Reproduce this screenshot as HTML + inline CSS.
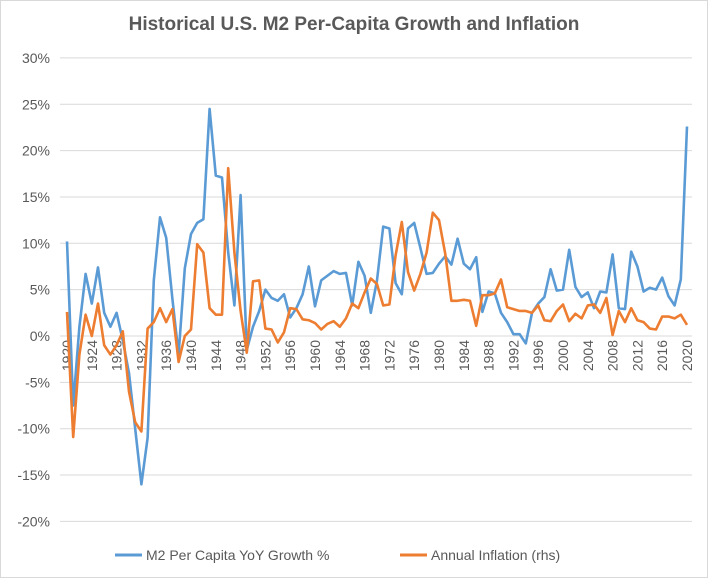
<!DOCTYPE html>
<html><head><meta charset="utf-8"><style>
html,body{margin:0;padding:0;background:#fff;}
svg text{font-family:"Liberation Sans",sans-serif;fill:#595959;}
</style></head><body>
<svg id="chart" width="708" height="578" viewBox="0 0 708 578">
<rect x="0.5" y="0.5" width="707" height="577" fill="#fff" stroke="#d9d9d9"/>
<text x="354" y="30" text-anchor="middle" font-size="19" font-weight="bold">Historical U.S. M2 Per-Capita Growth and Inflation</text>
<g id="grid"></g><g id="ylabels"></g><g id="xlabels"></g><g id="series"></g>
<g>
<line x1="115" y1="555" x2="142" y2="555" stroke="#5B9BD5" stroke-width="3"/>
<text x="146" y="560" font-size="14">M2 Per Capita YoY Growth %</text>
<line x1="400" y1="555" x2="427" y2="555" stroke="#ED7D31" stroke-width="3"/>
<text x="431" y="560" font-size="14">Annual Inflation (rhs)</text>
</g>
</svg>
<script>
const years=[];for(let y=1920;y<=2020;y++)years.push(y);
const m2=[10.2,-7.5,1,6.7,3.5,7.4,2.5,1,2.5,-0.5,-4,-10,-16,-11,6,12.8,10.6,4,-2,7.3,11,12.2,12.6,24.5,17.3,17.1,9,3.3,15.2,-1.5,1,2.7,5,4.1,3.8,4.5,2,3,4.5,7.5,3.2,6,6.5,7,6.7,6.8,3.3,8,6.5,2.5,6,11.8,11.6,5.7,4.5,11.6,12.2,9.5,6.7,6.8,7.8,8.6,7.7,10.5,7.8,7.2,8.5,2.6,4.8,4.6,2.5,1.5,0.2,0.2,-0.8,2.5,3.5,4.2,7.2,4.9,5,9.3,5.3,4.2,4.7,3,4.8,4.7,8.8,3,2.9,9.1,7.5,4.8,5.2,5,6.3,4.3,3.3,6.1,22.6];
const infl=[2.6,-10.9,-2,2.3,0,3.5,-1,-2,-1,0.5,-6,-9.3,-10.3,0.8,1.5,3,1.5,2.9,-2.8,0,0.7,9.9,9,3,2.3,2.3,18.1,9,2.7,-1.8,5.9,6,0.8,0.7,-0.7,0.4,3,2.9,1.8,1.7,1.4,0.7,1.3,1.6,1,1.9,3.5,3,4.7,6.2,5.6,3.3,3.4,8.7,12.3,6.9,4.9,6.7,9,13.3,12.5,8.9,3.8,3.8,3.9,3.8,1.1,4.4,4.4,4.6,6.1,3.1,2.9,2.7,2.7,2.5,3.3,1.7,1.6,2.7,3.4,1.6,2.4,1.9,3.3,3.4,2.5,4.1,0.1,2.7,1.5,3,1.7,1.5,0.8,0.7,2.1,2.1,1.9,2.3,1.2];
const yTicks=[30,25,20,15,10,5,0,-5,-10,-15,-20];
const xTickLabels=[1920,1924,1928,1932,1936,1940,1944,1948,1952,1956,1960,1964,1968,1972,1976,1980,1984,1988,1992,1996,2000,2004,2008,2012,2016,2020];
const NS="http://www.w3.org/2000/svg";
const X=y=>67+(y-1920)*6.2;
const Y=v=>336-v*9.27;
function mk(t,a,p){const e=document.createElementNS(NS,t);for(const k in a)e.setAttribute(k,a[k]);p.appendChild(e);return e;}
const grid=document.getElementById('grid'),yl=document.getElementById('ylabels'),xl=document.getElementById('xlabels'),ser=document.getElementById('series');
yTicks.forEach(v=>{
 const l=mk('line',{x1:60,x2:692,y1:Y(v),y2:Y(v),stroke:'#d9d9d9','stroke-width':1},grid);
 
 
 const t=mk('text',{x:50,y:Y(v)+5,'text-anchor':'end','font-size':14},yl);t.textContent=v+'%';
 
 
});
xTickLabels.forEach(yr=>{
 const x=X(yr)+5,y=340;
 const t=mk('text',{x:x,y:y,'text-anchor':'end','font-size':14,transform:`rotate(-90 ${x} ${y})`},xl);t.textContent=yr;
 
 
});
function line(data,color,name){
 const p=mk('polyline',{points:data.map((v,i)=>X(years[i])+','+Y(v)).join(' '),fill:'none',stroke:color,'stroke-width':2.6,'stroke-linejoin':'round'},ser);
 
 
}
line(m2,'#5B9BD5','m2-growth-line');
line(infl,'#ED7D31','inflation-line');
</script>
</body></html>
